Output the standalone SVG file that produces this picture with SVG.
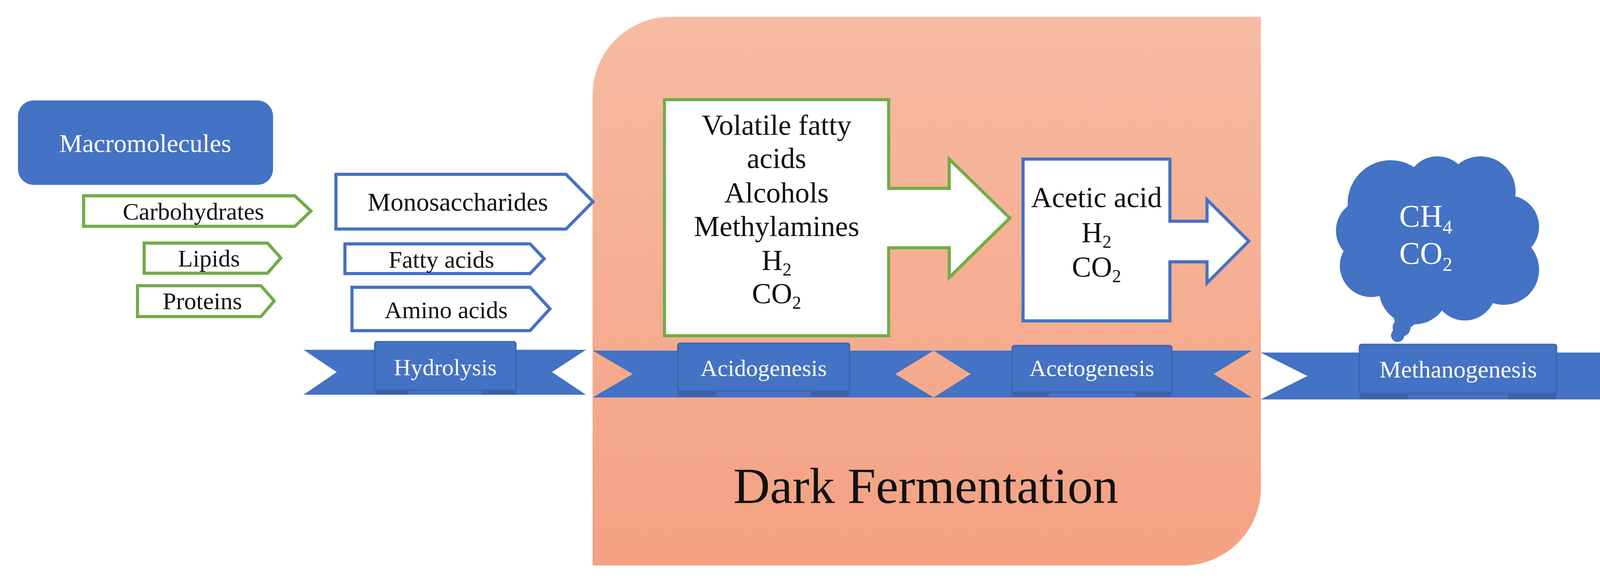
<svg xmlns="http://www.w3.org/2000/svg" width="4271" height="1484" viewBox="0 0 4271 1484">
<defs>
<linearGradient id="og" x1="0" y1="0" x2="0" y2="1"><stop offset="0" stop-color="#f6bba2"/><stop offset="1" stop-color="#f4a182"/></linearGradient>
<style>
.t{font-family:"Liberation Serif","DejaVu Serif",serif;fill:#111;text-anchor:middle}
.w{font-family:"Liberation Serif","DejaVu Serif",serif;fill:#fff;text-anchor:middle}
.g{fill:#fff;stroke:#70ad47;stroke-width:8}
.b{fill:#fff;stroke:#4472c4;stroke-width:8}
.rb{fill:#4472c4}
.tab{fill:#4472c4;stroke:#3a63ad;stroke-width:3}
.fold{fill:#3a62aa}
</style>
</defs>
<rect width="4271" height="1484" fill="#fff"/>
<g id="dark-fermentation">
<path d="M1717,43 H3228 V1247 A200,200 0 0 1 3028,1447 H1517 V243 A200,200 0 0 1 1717,43 Z" fill="url(#og)"/>
<text class="t" x="2370" y="1287" font-size="130">Dark Fermentation</text>
</g>
<g id="macromolecules">
<rect x="46" y="257" width="653" height="216" rx="40" fill="#4472c4"/>
<text class="w" x="372" y="389" font-size="66">Macromolecules</text>
</g>
<g id="inputs">
<path class="g" d="M214,501 H755 L796,540 L755,579 H214 Z"/>
<text class="t" x="495" y="562" font-size="62">Carbohydrates</text>
<path class="g" d="M369,622 H685 L719,660 L685,699 H369 Z"/>
<text class="t" x="535" y="682" font-size="62">Lipids</text>
<path class="g" d="M352,731 H668 L702,770 L668,810 H352 Z"/>
<text class="t" x="518" y="791" font-size="62">Proteins</text>
<path class="b" d="M860,446 H1449 L1518,516 L1449,586 H860 Z"/>
<text class="t" x="1172" y="539" font-size="66">Monosaccharides</text>
<path class="b" d="M883,624 H1357 L1393,662 L1357,700 H883 Z"/>
<text class="t" x="1130" y="685" font-size="62">Fatty acids</text>
<path class="b" d="M901,735 H1357 L1408,790 L1357,846 H901 Z"/>
<text class="t" x="1142" y="814" font-size="62">Amino acids</text>
</g>
<g id="acidogenesis-products">
<path class="g" d="M1701,255 H2275 V482 H2430 V407 L2585,558 L2430,710 V634 H2275 V859 H1701 Z"/>
<text class="t" font-size="74"><tspan x="1988" y="345">Volatile fatty</tspan><tspan x="1988" y="430">acids</tspan><tspan x="1988" y="518">Alcohols</tspan><tspan x="1988" y="604">Methylamines</tspan><tspan x="1988" y="691">H<tspan font-size="46" dy="14">2</tspan></tspan><tspan x="1988" y="776">CO<tspan font-size="46" dy="14">2</tspan></tspan></text>
</g>
<g id="acetogenesis-products">
<path class="b" d="M2619,407 H2995 V566 H3090 V511 L3197,617 L3090,724 V670 H2995 V821 H2619 Z"/>
<text class="t" font-size="74"><tspan x="2807" y="530">Acetic acid</tspan><tspan x="2807" y="620">H<tspan font-size="46" dy="14">2</tspan></tspan><tspan x="2807" y="708">CO<tspan font-size="46" dy="14">2</tspan></tspan></text>
</g>
<g id="biogas">
<g fill="#4472c4">
<circle cx="3560" cy="520" r="110"/><circle cx="3680" cy="480" r="80"/><circle cx="3790" cy="490" r="90"/>
<circle cx="3860" cy="580" r="80"/><circle cx="3850" cy="690" r="90"/><circle cx="3750" cy="740" r="80"/>
<circle cx="3620" cy="740" r="90"/><circle cx="3510" cy="680" r="80"/><circle cx="3500" cy="590" r="80"/>
<circle cx="3680" cy="610" r="150"/>
<circle cx="3598" cy="810" r="30"/><circle cx="3588" cy="838" r="23"/><circle cx="3578" cy="858" r="17"/>
</g>
<text class="w" font-size="80"><tspan x="3650" y="580">CH<tspan font-size="50" dy="18">4</tspan></tspan><tspan x="3650" y="675">CO<tspan font-size="50" dy="18">2</tspan></tspan></text>
</g>
<g id="connectors">
<path class="rb" d="M777,895 H1500 L1413,952 L1500,1010 H777 L862,952 Z"/>
<path class="rb" d="M1517,897 H2390 L2292,957 L2390,1017 H1517 L1620,957 Z"/>
<path class="rb" d="M2390,897 H3205 L3107,957 L3205,1017 H2390 L2485,957 Z"/>
<path class="rb" d="M3227,902 H4242 L4119,962 L4242,1022 H3227 L3347,962 Z"/>
</g>
<g id="hydrolysis">
<rect class="fold" x="959" y="960" width="88" height="50" rx="8"/><rect class="fold" x="1233" y="960" width="88" height="50" rx="8"/>
<rect class="tab" x="959" y="874" width="362" height="124" rx="6"/>
<text class="w" x="1140" y="960" font-size="60">Hydrolysis</text>
</g>
<g id="acidogenesis">
<rect class="fold" x="1735" y="965" width="100" height="50" rx="8"/><rect class="fold" x="2075" y="965" width="100" height="50" rx="8"/>
<rect class="tab" x="1735" y="878" width="440" height="123" rx="6"/>
<text class="w" x="1955" y="962" font-size="60">Acidogenesis</text>
</g>
<g id="acetogenesis">
<rect class="fold" x="2591" y="965" width="95" height="50" rx="8"/><rect class="fold" x="2905" y="965" width="95" height="50" rx="8"/>
<rect class="tab" x="2591" y="884" width="409" height="119" rx="6"/>
<text class="w" x="2795" y="962" font-size="60">Acetogenesis</text>
</g>
<g id="methanogenesis">
<rect class="fold" x="3480" y="970" width="125" height="52" rx="8"/><rect class="fold" x="3860" y="970" width="125" height="52" rx="8"/>
<rect class="tab" x="3480" y="881" width="505" height="125" rx="6"/>
<text class="w" x="3733" y="966" font-size="62">Methanogenesis</text>
</g>
</svg>
